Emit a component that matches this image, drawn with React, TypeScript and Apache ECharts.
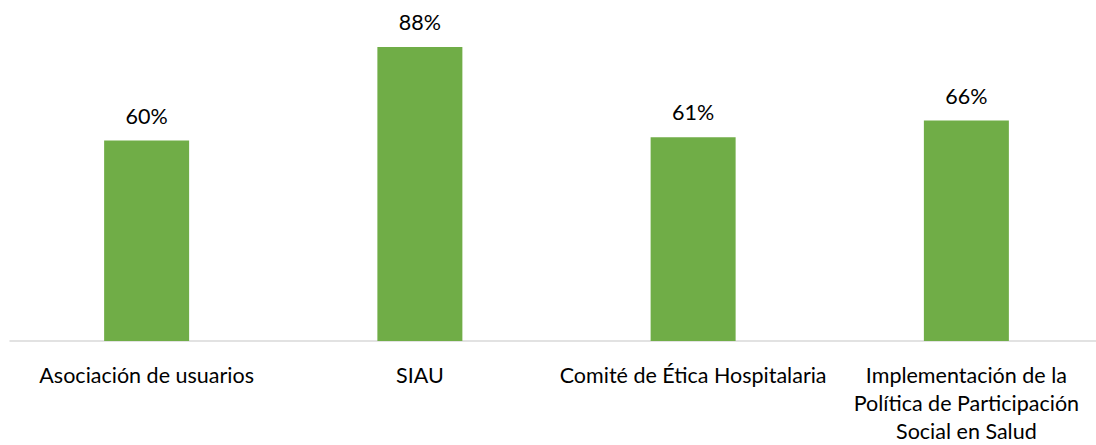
import React, { useEffect, useRef } from "react";
import * as echarts from "echarts";

const categories = [
  "Asociación de usuarios",
  "SIAU",
  "Comité de Ética Hospitalaria",
  "Implementación de la\nPolítica de Participación\nSocial en Salud",
];
const values = [0.6, 0.88, 0.61, 0.66];

export default function App() {
  const ref = useRef<HTMLDivElement>(null);
  useEffect(() => {
    if (!ref.current) return;
    const chart = echarts.init(ref.current, null, { renderer: "svg" });
    chart.setOption({
      animation: false,
      grid: { left: 10, right: 0, top: 7, bottom: 100, containLabel: false },
      xAxis: {
        type: "category",
        data: categories,
        axisLine: { show: true, lineStyle: { color: "#D9D9D9", width: 1.5 } },
        axisTick: { show: false },
        axisLabel: {
          interval: 0,
          color: "#000",
          fontFamily: "Lato",
          fontSize: 21.5,
          lineHeight: 28,
          margin: 20,
        },
      },
      yAxis: {
        type: "value",
        min: 0,
        max: 1,
        show: false,
        splitLine: { show: false },
      },
      series: [
        {
          type: "bar",
          data: values,
          barWidth: 85,
          itemStyle: { color: "#70AD47" },
          label: {
            show: true,
            position: "top",
            distance: 14,
            color: "#000",
            fontFamily: "Lato",
            fontSize: 21.5,
            formatter: (p: any) => Math.round(p.value * 100) + "%",
          },
        },
      ],
    });
    return () => chart.dispose();
  }, []);
  return (
    <div style={{ position: "fixed", left: 0, top: 0, width: 1096, height: 445, overflow: "hidden", background: "#fff" }}>
      <div ref={ref} style={{ width: 1103, height: 445 }} />
    </div>
  );
}
